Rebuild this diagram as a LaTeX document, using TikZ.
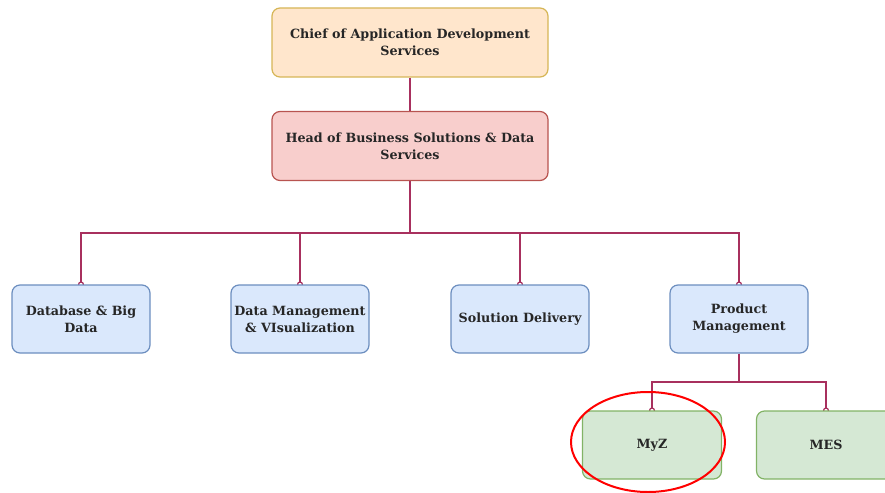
\documentclass[tikz,border=0pt]{standalone}
\usepackage{fontspec}
\setmainfont{DejaVu Serif}
\usetikzlibrary{arrows.meta,backgrounds}

\definecolor{chieffill}{HTML}{FFE6CC}
\definecolor{chiefline}{HTML}{D6B656}
\definecolor{headfill}{HTML}{F8CECC}
\definecolor{headline}{HTML}{B85450}
\definecolor{unitfill}{HTML}{DAE8FC}
\definecolor{unitline}{HTML}{6C8EBF}
\definecolor{teamfill}{HTML}{D5E8D4}
\definecolor{teamline}{HTML}{82B366}
\definecolor{linkcol}{HTML}{A8305E}

\begin{document}
\begin{tikzpicture}[x=1pt, y=-1pt,
		box/.style={draw, rectangle, rounded corners=8pt, line width=1.2pt, align=center, inner sep=2pt,
			font=\fontsize{12.7}{17}\selectfont\bfseries, text=black!85},
		wide/.style={box, minimum width=276pt, minimum height=69pt},
		unit/.style={box, minimum width=138pt, minimum height=68pt, fill=unitfill, draw=unitline},
		team/.style={box, minimum width=139pt, minimum height=68pt, fill=teamfill, draw=teamline},
		link/.style={draw=linkcol, line width=1.2pt},
		tiplink/.style={link, -{Circle[open, length=6pt, width=6pt]}, shorten >=-3pt}]
				\clip (0,0) rectangle (885,492);
				\node[wide, fill=chieffill, draw=chiefline] (chief)at(410, 42.5) {Chief of Application Development\\Services};
				\node[wide, fill=headfill, draw=headline] (head)at(410, 146) {Head of Business Solutions \& Data\\Services};
				\node[unit] (db)at(81, 319) {Database \& Big\\Data};
				\node[unit] (dm)at(300, 319) {Data Management\\\& VIsualization};
				\node[unit] (sd)at(520, 319) {Solution Delivery};
				\node[unit] (pm)at(739, 319) {Product\\Management};
				\node[team] (myz)at(652, 445) {MyZ};
				\node[team] (mes)at(826, 445) {MES};
				\coordinate (bus)at(410, 233);
				\coordinate (pmbus)at(739, 382);
				\begin{scope}[on background layer]
				\draw[link] (chief) -- (head);
				\foreach \n in {db, dm, sd, pm}
					\draw[tiplink] (head) |- (bus) -| (\n);
				\foreach \n in {myz, mes}
					\draw[tiplink] (pm) |- (pmbus) -| (\n);
				\end{scope}
				\draw[red, line width=2pt] (648, 442) ellipse [x radius=77pt, y radius=50pt];
			\end{tikzpicture}
\end{document}
